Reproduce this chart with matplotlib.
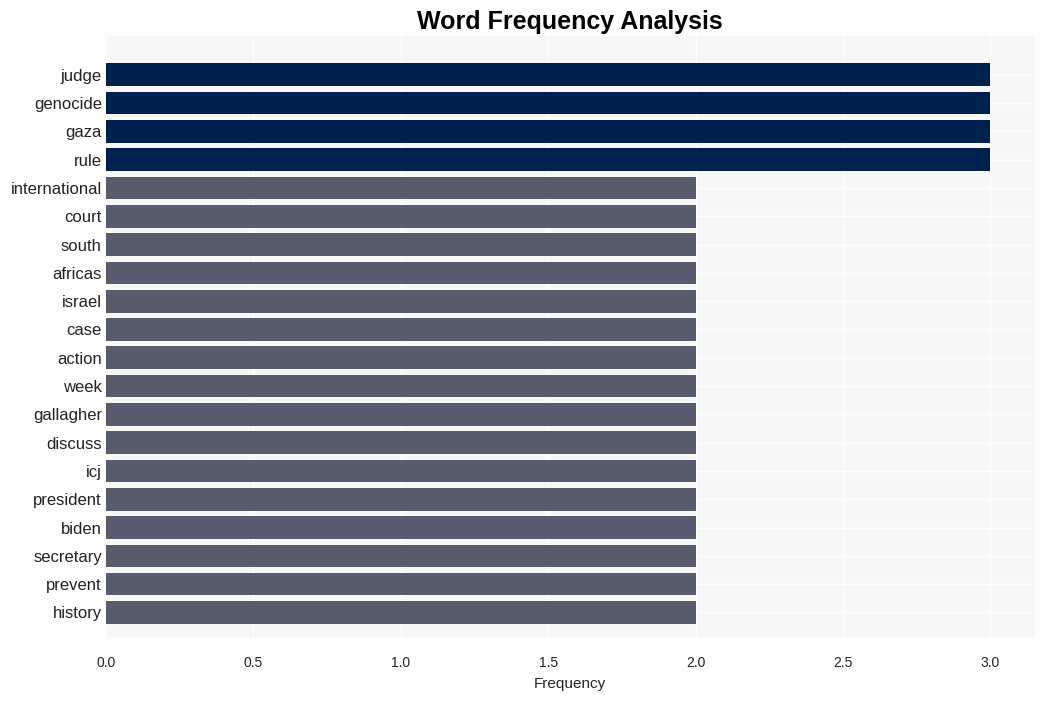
import numpy as np
import matplotlib.pyplot as plt

plt.rcParams['font.family'] = ['Liberation Sans', 'DejaVu Sans']

words = ["judge", "genocide", "gaza", "rule", "international", "court", "south",
         "africas", "israel", "case", "action", "week", "gallagher", "discuss",
         "icj", "president", "biden", "secretary", "prevent", "history"]
counts = [3, 3, 3, 3, 2, 2, 2, 2, 2, 2, 2, 2, 2, 2, 2, 2, 2, 2, 2, 2]

colors = ["#00204e" if c == max(counts) else "#585c6e" for c in counts]

fig, ax = plt.subplots(figsize=(10.45, 7.01), dpi=100)
fig.subplots_adjust(left=0.1015, right=0.990, top=0.949, bottom=0.092)

y = np.arange(len(words))
ax.barh(y, counts, height=0.8, color=colors, zorder=3)

ax.set_facecolor("#f7f7f7")
ax.grid(True, color="white", linewidth=1, zorder=0)
for s in ax.spines.values():
    s.set_visible(False)

ax.set_yticks(y)
ax.set_yticklabels(words, fontsize=12, color="#222222")
ax.set_ylim(len(words) - 0.15, -1.38)
ax.set_xlim(0, 3.15)
ax.set_xticks([0, 0.5, 1.0, 1.5, 2.0, 2.5, 3.0])
ax.tick_params(axis='x', labelsize=10, colors="#222222", length=0, pad=14)
ax.tick_params(axis='y', length=0, pad=3)
ax.set_xlabel("Frequency", fontsize=11, color="#222222", labelpad=5)
ax.set_title("Word Frequency Analysis", fontsize=18, fontweight="bold", pad=5)

plt.savefig("out.png")
